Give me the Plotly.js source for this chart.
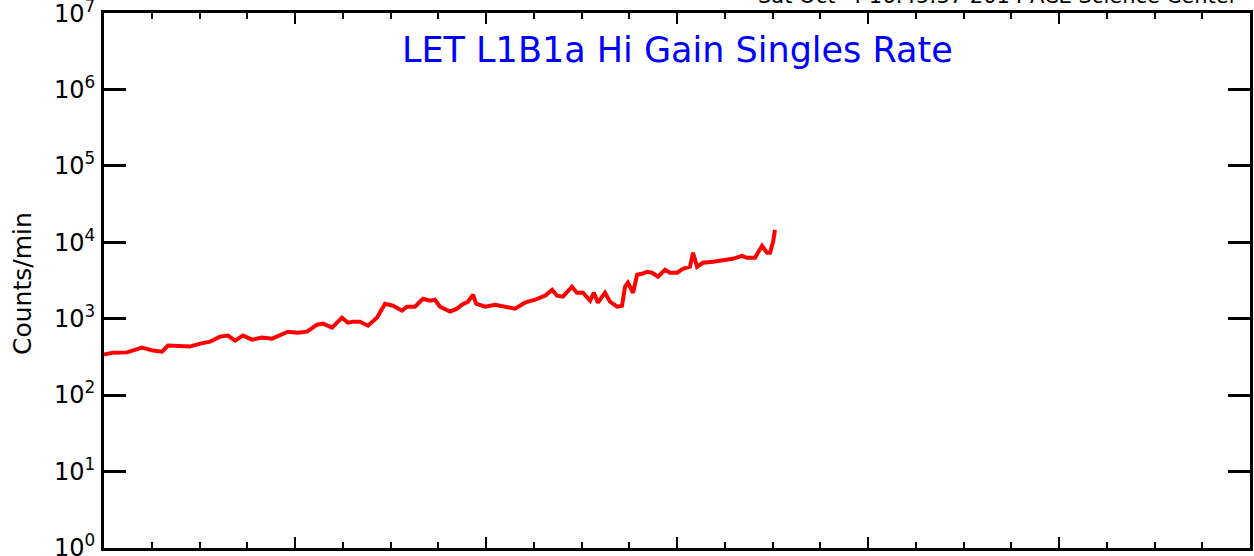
<!DOCTYPE html>
<html>
<head>
<meta charset="utf-8">
<script src="https://cdn.plot.ly/plotly-3.0.1.min.js"></script>
<style>html,body{margin:0;padding:0;background:#fff;}#chart{width:1254px;height:556px;}</style>
</head>
<body>
<div id="chart"></div>
<script>
// x position in axis units (one major tick interval = 1 unit)
const timeUnits = [0,0.047,0.120,0.199,0.257,0.304,0.335,0.398,0.450,0.503,0.555,0.607,0.649,0.686,0.728,0.775,0.827,0.880,0.932,0.963,1.016,1.063,1.115,1.147,1.194,1.246,1.277,1.304,1.340,1.382,1.429,1.471,1.513,1.560,1.586,1.628,1.670,1.707,1.733,1.759,1.812,1.848,1.874,1.906,1.932,1.948,1.995,2.047,2.099,2.152,2.204,2.257,2.309,2.346,2.372,2.403,2.450,2.476,2.508,2.529,2.545,2.565,2.586,2.623,2.649,2.686,2.712,2.728,2.743,2.770,2.791,2.817,2.843,2.869,2.901,2.937,2.963,3.000,3.031,3.068,3.084,3.105,3.136,3.188,3.241,3.293,3.340,3.366,3.408,3.445,3.471,3.487,3.503,3.513];
const countsPerMin = [338,359,362,418,382,370,444,444,431,471,500,582,600,516,600,531,565,548,618,676,656,676,835,861,763,1031,887,914,914,810,1031,1571,1479,1273,1436,1436,1825,1719,1771,1436,1236,1352,1525,1668,2060,1571,1436,1525,1436,1352,1619,1771,2000,2393,2000,1940,2620,2188,2188,1940,1719,2188,1619,2188,1668,1436,1479,2620,2958,2188,3758,3874,4113,3994,3541,4373,3994,3994,4508,4786,7295,4786,5398,5563,5906,6085,6664,6270,6270,8997,7295,7295,10160,14560];
const yTickVals = [1,10,100,1000,10000,100000,1000000,10000000];
const yTickText = ["10<sup>0</sup>","10<sup>1</sup>","10<sup>2</sup>","10<sup>3</sup>","10<sup>4</sup>","10<sup>5</sup>","10<sup>6</sup>","10<sup>7</sup>"];
const chartTitle = "LET L1B1a Hi Gain Singles Rate";
const yLabel = "Counts/min";
const stampText = "Sat Oct  4 16:45:37 2014 ACE Science Center";

const FONT = "DejaVu Sans, sans-serif";
const trace = {
  x: timeUnits, y: countsPerMin, type: 'scatter', mode: 'lines',
  line: {color: '#ff0000', width: 4}, hoverinfo: 'skip'
};
const layout = {
  width: 1254, height: 556,
  margin: {l: 104, r: 4, t: 13, b: 8, pad: 0},
  paper_bgcolor: '#fff', plot_bgcolor: '#fff',
  showlegend: false,
  xaxis: {
    range: [0, 6], showgrid: false, zeroline: false,
    showline: true, linecolor: '#000', linewidth: 3, mirror: 'allticks',
    ticks: 'inside', ticklen: 11, tickwidth: 2, tickcolor: '#000',
    tick0: 0, dtick: 1, showticklabels: false,
    minor: {ticks: 'inside', ticklen: 6, tickwidth: 2, tickcolor: '#000', dtick: 0.25, showgrid: false}
  },
  yaxis: {
    type: 'log', range: [-0.003, 7.003], showgrid: false, zeroline: false,
    showline: true, linecolor: '#000', linewidth: 3, mirror: 'allticks',
    ticks: 'inside', ticklen: 22, tickwidth: 3, tickcolor: '#000',
    tickvals: yTickVals, ticktext: yTickText,
    tickfont: {family: FONT, size: 24, color: '#000'},
    ticklabelstandoff: 1, ticklabeloverflow: 'allow'
  },
  annotations: [
    {text: chartTitle, xref: 'paper', yref: 'paper', x: 0.5, y: (548 - 50) / 535,
     xanchor: 'center', yanchor: 'middle', showarrow: false,
     font: {family: FONT, size: 35, color: '#0000ff'}},
    {text: yLabel, xref: 'paper', yref: 'paper', x: (22 - 104) / 1146, y: (548 - 284) / 535,
     xanchor: 'center', yanchor: 'middle', textangle: -90, showarrow: false,
     font: {family: FONT, size: 25, color: '#000'}},
    {text: stampText, xref: 'paper', yref: 'paper', x: (1240 - 104) / 1146, y: (548 - 10) / 535,
     xanchor: 'right', yanchor: 'bottom', showarrow: false,
     font: {family: FONT, size: 21, color: '#000'}}
  ]
};
Plotly.newPlot('chart', [trace], layout, {displayModeBar: false, staticPlot: true});
</script>
</body>
</html>
